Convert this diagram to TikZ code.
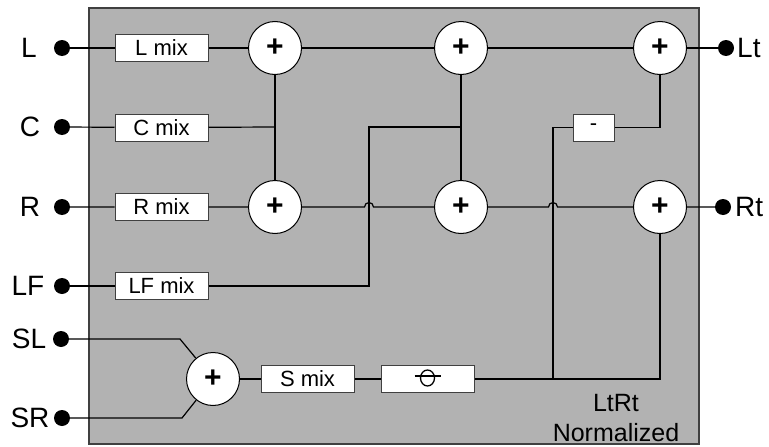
\documentclass[tikz,border=0pt]{standalone}
\usepackage{fontspec}
\setmainfont{Liberation Sans}
\usepackage{tikz}
\usetikzlibrary{positioning}

\begin{document}
\begin{tikzpicture}[x=1pt,y=-1pt]
	\tikzstyle{port}=[circle,fill=black,inner sep=0pt,minimum size=16pt]
	\tikzstyle{portname}=[inner sep=0pt,font=\fontsize{28}{30}\selectfont]
	\tikzstyle{gain}=[rectangle,draw=black!75,fill=white,line width=1pt,minimum width=93pt,minimum height=27pt,inner sep=0pt,font=\fontsize{22}{24}\selectfont]
	\tikzstyle{sum}=[circle,draw=black,fill=white,line width=1pt,minimum size=53pt,inner sep=0pt,font=\fontsize{30}{30}\selectfont\bfseries]
	\tikzstyle{wire}=[line width=1.2pt]
	\useasboundingbox (0,0) rectangle (769,447);
	\draw[fill=black!30,draw=black!75,line width=1.5pt] (89,8) rectangle (699,444);
	% inputs
	\node[port](inL) at (62,48) {};
	\node[port](inC) at (62,127) {};
	\node[port](inR) at (62,207) {};
	\node[port](inLF) at (62,286) {};
	\node[port](inSL) at (61,339) {};
	\node[port](inSR) at (62,418) {};
	\node[portname](nL) at (29,48) {L};
	\node[portname](nC) at (30,127) {C};
	\node[portname](nR) at (30,207) {R};
	\node[portname](nLF) at (28,286) {LF};
	\node[portname](nSL) at (29,339) {SL};
	\node[portname](nSR) at (30,418) {SR};
	% outputs
	\node[port](outLt) at (726,48) {};
	\node[port](outRt) at (723,207) {};
	\node[portname,anchor=west](nLt) at (737,48) {Lt};
	\node[portname,anchor=west](nRt) at (735,207) {Rt};
	% mix boxes
	\node[gain](mixL) at (161.5,48) {L mix};
	\node[gain](mixC) at (161.5,127.5) {C mix};
	\node[gain](mixR) at (161.5,207) {R mix};
	\node[gain](mixLF) at (161.5,286) {LF mix};
	\node[gain](mixS) at (307.5,379) {S mix};
	\node[gain](phase) at (427.5,379) {};
	\node[gain,minimum width=41pt](minus) at (593.5,127.5) {-};
	% sums
	\node[sum](s11) at (275,48) {+};
	\node[sum](s12) at (461,48) {+};
	\node[sum](s13) at (660,48) {+};
	\node[sum](s21) at (275,207) {+};
	\node[sum](s22) at (461,207) {+};
	\node[sum](s23) at (660,207) {+};
	\node[sum](sS) at (213,379) {+};
	% phase symbol
	\draw[line width=1.3pt] (phase.center) ++(0,-1) ellipse [x radius=7, y radius=8];
	\draw[line width=1.2pt] (phase.center) ++(-13,-3) -- ++(26,0);
	% corners and junctions
	\coordinate (jC) at (275,127);
	\coordinate (hopA) at (369,207);
	\coordinate (hopB) at (553,207);
	\coordinate (kLF) at (369,286);
	\coordinate (jLF) at (461,127);
	\coordinate (kSL) at (180,339);
	\coordinate (kSR) at (182,418);
	\coordinate (jS) at (553,379);
	% wires
	\draw[wire] (inL) -- (mixL) -- (s11) -- (s12) -- (s13) -- (outLt);
	\draw[wire] (inC) -- (mixC) -- (jC);
	\draw[wire] (s11) -- (s21);
	\draw[wire] (s12) -- (s22);
	\draw[wire] (inR) -- (mixR) -- (s21) -- ([xshift=-4.5pt]hopA) arc[start angle=180,end angle=360,radius=4.5] -- (s22)
		-- ([xshift=-4.5pt]hopB) arc[start angle=180,end angle=360,radius=4.5] -- (s23) -- (outRt);
	\draw[wire] (inLF) -- (mixLF) -- (kLF) |- (jLF);
	\draw[wire] (inSL) -- (kSL) -- (sS);
	\draw[wire] (inSR) -- (kSR) -- (sS);
	\draw[wire] (sS) -- (mixS) -- (phase) -- (jS) -| (s23);
	\draw[wire] (jS) |- (minus);
	\draw[wire] (minus) -| (s13);
	% label
	\node[align=center,inner sep=0pt,font=\fontsize{25}{30}\selectfont](tag) at (616,418) {LtRt\\Normalized};
\end{tikzpicture}
\end{document}
